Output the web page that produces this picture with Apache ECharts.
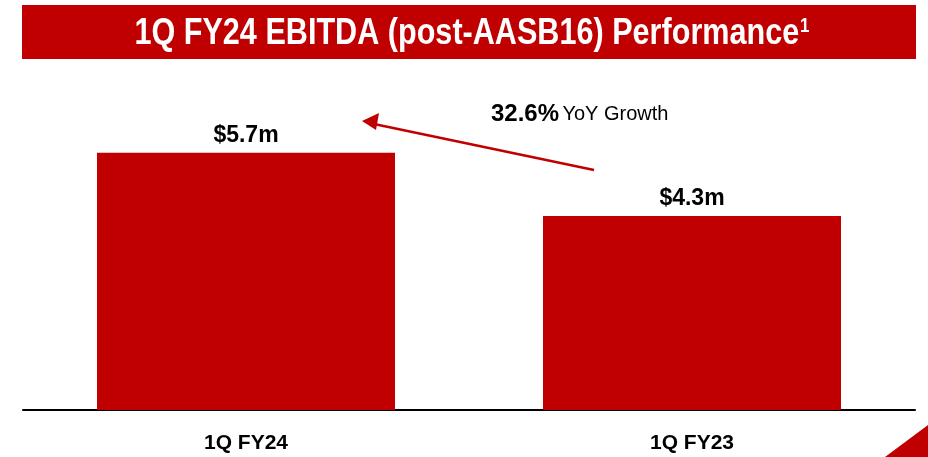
<!DOCTYPE html>
<html>
<head>
<meta charset="utf-8">
<script src="https://cdn.jsdelivr.net/npm/echarts@6/dist/echarts.min.js"></script>
<style>
  html, body { margin: 0; padding: 0; background: #fff; }
  #chart { width: 928px; height: 457px; }
</style>
</head>
<body>
<div id="chart"></div>
<script>
// data
const categories = ['1Q FY24', '1Q FY23']
const ebitda = [5.7, 4.3] // $m
const growthPct = '32.6%'

const RED = '#C00000'
const FONT = '"Liberation Sans Narrow", "Arial Narrow", "Liberation Sans", Arial, sans-serif'

const myChart = echarts.init(document.getElementById('chart'), null, { renderer: 'canvas' })

const option = {
  animation: false,
  backgroundColor: '#fff',
  grid: { left: 23, right: 13, top: 49, bottom: 47 },
  xAxis: {
    type: 'category',
    data: categories,
    axisLine: { lineStyle: { color: '#000', width: 2 } },
    axisTick: { show: false },
    axisLabel: {
      margin: 23,
      color: '#000',
      fontFamily: FONT,
      fontWeight: 'bold',
      fontSize: 21,
    },
  },
  yAxis: {
    type: 'value',
    min: 0,
    max: 8,
    show: false,
    splitLine: { show: false },
  },
  series: [
    {
      type: 'bar',
      data: ebitda,
      barWidth: 298,
      itemStyle: { color: RED },
      label: {
        show: true,
        position: 'top',
        distance: 6,
        color: '#000',
        fontFamily: FONT,
        fontWeight: 'bold',
        fontSize: 23,
        formatter: (p) => '$' + p.value.toFixed(1) + 'm',
      },
    },
  ],
  graphic: [
    // title banner
    {
      type: 'rect',
      shape: { x: 22, y: 5, width: 894, height: 54 },
      style: { fill: RED },
    },
    {
      type: 'text',
      x: 472,
      y: 34,
      scaleX: 0.85,
      style: {
        text: '{t|1Q FY24 EBITDA (post-AASB16) Performance}{s|1}',
        align: 'center',
        verticalAlign: 'middle',
        rich: {
          t: { fill: '#fff', fontFamily: FONT, fontWeight: 'bold', fontSize: 36 },
          s: { fill: '#fff', fontFamily: FONT, fontWeight: 'bold', fontSize: 20, verticalAlign: 'top', padding: [0, 0, 16, 1] },
        },
      },
    },
    // growth arrow
    {
      type: 'line',
      shape: { x1: 594, y1: 170, x2: 374, y2: 124 },
      style: { stroke: RED, lineWidth: 2.5 },
    },
    {
      type: 'polygon',
      shape: { points: [[362, 121], [379, 113], [376, 130]] },
      style: { fill: RED },
    },
    {
      type: 'text',
      x: 491,
      y: 114,
      style: {
        text: '{b|' + growthPct + '} {r|YoY Growth}',
        verticalAlign: 'middle',
        rich: {
          b: { fill: '#000', fontFamily: FONT, fontWeight: 'bold', fontSize: 24 },
          r: { fill: '#000', fontFamily: FONT, fontSize: 20 },
        },
      },
    },
    // corner accent
    {
      type: 'polygon',
      shape: { points: [[928, 425], [928, 457], [885, 457]] },
      style: { fill: RED },
    },
  ],
}

myChart.setOption(option)
</script>
</body>
</html>
